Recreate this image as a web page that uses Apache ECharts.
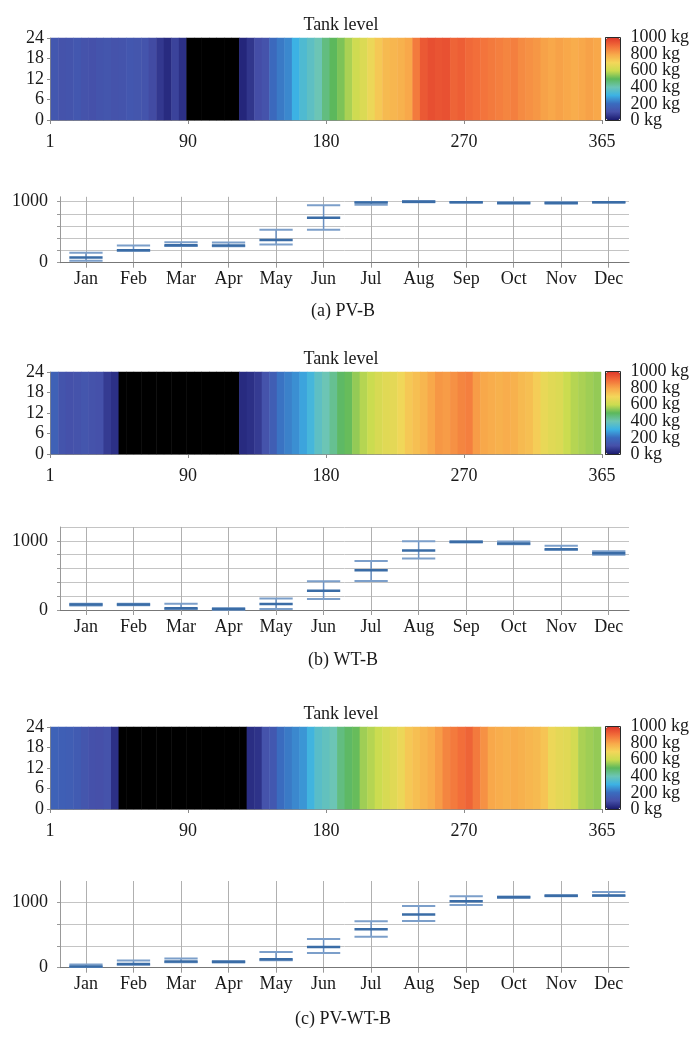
<!DOCTYPE html>
<html><head><meta charset="utf-8">
<script src="https://cdn.jsdelivr.net/npm/echarts@6/dist/echarts.min.js"></script>
<style>html,body{margin:0;padding:0;background:#fff}#c{width:696px;height:1041px}</style>
</head><body><div id="c"></div>
<script>
const monthLabels = ['Jan','Feb','Mar','Apr','May','Jun','Jul','Aug','Sep','Oct','Nov','Dec'];
const dayTickLabels = ['1','90','180','270','365'];
const kgTickLabels = ['0 kg','200 kg','400 kg','600 kg','800 kg','1000 kg'];
const captions = ['(a) PV-B','(b) WT-B','(c) PV-WT-B'];
// heatmap: tank level (kg) per 5-day block over the year; -1 = empty (black)
const heatA = [125,110,115,125,110,105,115,120,110,115,125,120,115,90,55,30,75,40,-1,-1,-1,-1,-1,-1,-1,20,50,95,110,190,220,240,300,340,370,400,460,500,530,570,610,640,680,730,760,770,780,800,880,940,960,950,955,920,930,910,900,890,880,870,860,870,850,840,830,810,800,810,800,790,800,810,800];
const heatB = [160,115,105,110,120,110,105,60,40,-1,-1,-1,-1,-1,-1,-1,-1,-1,-1,-1,-1,-1,-1,-1,-1,30,40,60,110,150,210,230,250,280,320,370,400,440,490,510,550,580,600,630,650,660,690,730,750,770,800,830,820,840,860,870,820,800,790,780,790,780,760,750,720,670,650,640,600,580,570,560,550];
const heatC = [165,155,150,140,120,105,100,110,40,-1,-1,-1,-1,-1,-1,-1,-1,-1,-1,-1,-1,-1,-1,-1,-1,-1,35,45,110,130,200,220,240,260,310,360,380,400,460,490,510,560,580,600,630,650,680,730,750,770,790,820,860,880,900,920,880,840,800,790,780,790,780,770,760,740,680,660,650,620,570,560,550];
// monthly statistics (kg)
const boxAMin = [30,195,275,270,300,540,950,990,985,970,970,985];
const boxAMed = [85,205,285,280,370,735,985,1000,990,980,980,990];
const boxAMax = [165,280,335,330,540,940,995,1010,995,990,990,995];
const boxBMin = [65,68,15,5,15,160,420,745,975,950,870,800];
const boxBMed = [78,78,25,15,85,280,575,860,985,960,880,820];
const boxBMax = [90,90,90,25,165,415,710,995,990,990,930,850];
const boxCMin = [10,45,85,80,115,225,475,720,965,1075,1100,1105];
const boxCMed = [20,55,95,90,130,320,590,820,1020,1085,1105,1110];
const boxCMax = [50,110,140,100,240,440,715,950,1100,1095,1115,1165];

const cmap = ['#1b1b6f','#4650a9','#3a6cbf','#3cb2e4','#6cc5b5','#5cb85c','#cbdc50','#f4d65a','#f8a84a','#f26e3a','#e03a2b'];
const FONT = '"Liberation Serif", "Times New Roman", serif';
const TXT = {fontFamily: FONT, fontSize: 18, color: '#1a1a1a'};

const panels = [
  {heat: heatA, bmin: boxAMin, bmed: boxAMed, bmax: boxAMax, title: 25, heatTop: 38, boxTop: 196.8, boxBottom: 262.7, yMax: 1080, yInt: 200, showMax: false, cap: 311},
  {heat: heatB, bmin: boxBMin, bmed: boxBMed, bmax: boxBMax, title: 359, heatTop: 372, boxTop: 527, boxBottom: 610, yMax: 1200, yInt: 200, showMax: true, cap: 660},
  {heat: heatC, bmin: boxCMin, bmed: boxCMed, bmax: boxCMax, title: 714, heatTop: 727, boxTop: 881, boxBottom: 967.7, yMax: 4000/3, yInt: 1000/3, showMax: false, cap: 1019}
];

const blockIdx = heatA.map((v, i) => String(i));

function renderBox(params, api) {
  const x = api.value(0);
  const lo = api.coord([x, api.value(1)]);
  const md = api.coord([x, api.value(2)]);
  const hi = api.coord([x, api.value(3)]);
  const hw = api.size([1, 0])[0] * 0.35;
  const h = (p, c, w) => ({type: 'line', shape: {x1: p[0] - hw, y1: p[1], x2: p[0] + hw, y2: p[1]}, style: {stroke: c, lineWidth: w}});
  return {type: 'group', children: [
    {type: 'line', shape: {x1: lo[0], y1: lo[1], x2: hi[0], y2: hi[1]}, style: {stroke: '#6b90c0', lineWidth: 1.5}},
    h(lo, '#7c9fca', 2),
    h(hi, '#7c9fca', 2),
    h(md, '#3a6ca6', 2.5)
  ]};
}

const grids = [], xAxes = [], yAxes = [], series = [], visualMaps = [], graphics = [];
const gridBase = {containLabel: false, outerBoundsMode: 'none'};
panels.forEach((P, p) => {
  const g0 = grids.length;
  const heatH = 82;
  // 0: heatmap
  grids.push(Object.assign({left: 51, top: P.heatTop, width: 550, height: heatH}, gridBase));
  xAxes.push({type: 'category', gridIndex: g0, data: blockIdx, show: false});
  yAxes.push({type: 'category', gridIndex: g0, data: ['h'], show: false});
  // 1: heatmap axes overlay
  grids.push(Object.assign({left: 50, top: P.heatTop, width: 552, height: heatH}, gridBase));
  xAxes.push({type: 'value', gridIndex: g0 + 1, min: 0, max: 4, interval: 1, offset: 6,
    axisLine: {show: true, lineStyle: {color: '#8a8a8a', width: 1}},
    axisTick: {show: true, length: 4, lineStyle: {color: '#8a8a8a'}},
    axisLabel: Object.assign({formatter: v => dayTickLabels[Math.round(v)], margin: 7, showMinLabel: true, showMaxLabel: true, hideOverlap: false}, TXT),
    splitLine: {show: false}});
  yAxes.push({type: 'value', gridIndex: g0 + 1, min: 0, max: 24, interval: 6,
    axisLine: {show: true, lineStyle: {color: '#8a8a8a', width: 1}},
    axisTick: {show: true, length: 3, lineStyle: {color: '#8a8a8a'}},
    axisLabel: Object.assign({margin: 6, showMinLabel: true, showMaxLabel: true, hideOverlap: false}, TXT),
    splitLine: {show: false}});
  // 2: colorbar axis
  grids.push(Object.assign({left: 605.5, top: P.heatTop - 0.5, width: 15, height: heatH + 1, show: true, borderColor: '#2a2a2a', borderWidth: 1, backgroundColor: 'transparent'}, gridBase));
  xAxes.push({type: 'value', gridIndex: g0 + 2, min: 0, max: 1, show: false});
  yAxes.push({type: 'category', gridIndex: g0 + 2, position: 'right', data: kgTickLabels, boundaryGap: false,
    axisLine: {show: false},
    axisTick: {show: true, interval: 0, length: 4, lineStyle: {color: '#2a2a2a'}},
    axisLabel: Object.assign({interval: 0, margin: 10}, TXT),
    splitLine: {show: false}});
  // 3: box frame
  const bH = P.boxBottom - P.boxTop;
  grids.push(Object.assign({left: 60, top: P.boxTop, width: 569, height: bH}, gridBase));
  xAxes.push({type: 'value', gridIndex: g0 + 3, min: 0, max: 1,
    axisLine: {show: true, lineStyle: {color: '#777', width: 1.2}},
    axisTick: {show: false}, axisLabel: {show: false}, splitLine: {show: false}});
  yAxes.push({type: 'value', gridIndex: g0 + 3, min: 0, max: P.yMax, interval: P.yInt,
    axisLine: {show: true, lineStyle: {color: '#999', width: 1}},
    axisTick: {show: true, length: 3, lineStyle: {color: '#999'}},
    axisLabel: Object.assign({margin: 12, showMaxLabel: false, hideOverlap: false,
      formatter: v => (Math.abs(v) < 1e-6 || Math.abs(v - 1000) < 1e-3) ? String(Math.round(v)) : ''}, TXT),
    splitLine: {show: true, showMinLine: false, showMaxLine: P.showMax, lineStyle: {color: '#c4c4c4', width: 1}}});
  // 4: box categories
  grids.push(Object.assign({left: 62.2, top: P.boxTop, width: 570.3, height: bH}, gridBase));
  xAxes.push({type: 'category', gridIndex: g0 + 4, data: monthLabels, boundaryGap: true,
    axisLine: {show: false},
    axisTick: {show: true, alignWithLabel: true, length: 5, lineStyle: {color: '#999'}},
    axisLabel: Object.assign({interval: 0, margin: 8, hideOverlap: false}, TXT),
    splitLine: {show: true, alignWithLabel: true, lineStyle: {color: '#b0b0b0', width: 1}}});
  yAxes.push({type: 'value', gridIndex: g0 + 4, min: 0, max: P.yMax, show: false});

  series.push({type: 'heatmap', xAxisIndex: g0, yAxisIndex: g0, data: P.heat.map((v, i) => [i, 0, v]), emphasis: {disabled: true}, z: 2});
  visualMaps.push({type: 'continuous', seriesIndex: series.length - 1, min: 0, max: 1000, range: [0.01, 1000], calculable: false,
    orient: 'vertical', left: 606, top: P.heatTop, itemWidth: 14, itemHeight: heatH, padding: 0,
    inRange: {color: cmap}, outOfRange: {color: '#000000'}, hoverLink: false});
  series.push({type: 'custom', xAxisIndex: g0 + 4, yAxisIndex: g0 + 4, renderItem: renderBox, z: 5,
    data: monthLabels.map((m, i) => [i, P.bmin[i], P.bmed[i], P.bmax[i]])});

  graphics.push({type: 'text', x: 341, y: P.title, style: {text: 'Tank level', font: '18px ' + FONT, fill: '#1a1a1a', align: 'center', verticalAlign: 'middle'}});
  graphics.push({type: 'text', x: 343, y: P.cap, style: {text: captions[p], font: '18px ' + FONT, fill: '#1a1a1a', align: 'center', verticalAlign: 'middle'}});
});

const chart = echarts.init(document.getElementById('c'), null, {renderer: 'canvas'});
chart.setOption({
  animation: false,
  backgroundColor: '#ffffff',
  textStyle: {fontFamily: FONT},
  grid: grids, xAxis: xAxes, yAxis: yAxes,
  visualMap: visualMaps, series: series, graphic: graphics
});
</script></body></html>
